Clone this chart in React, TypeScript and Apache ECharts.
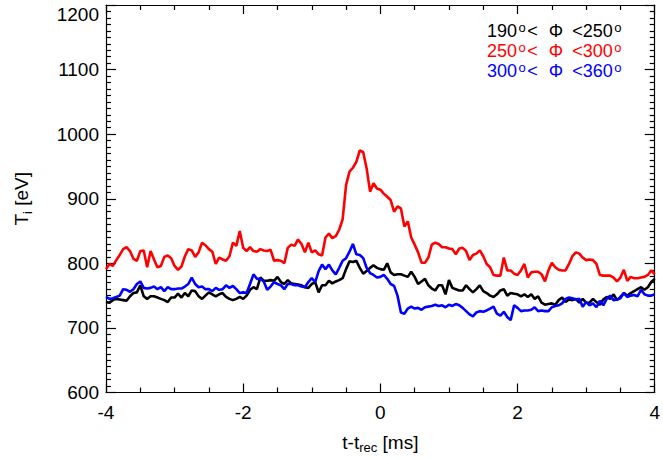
import React, { useEffect, useRef } from "react";
import * as echarts from "echarts";

// Time axis: samples every 0.05 ms from -4 ms to +4 ms
const T_START = -4;
const T_STEP = 0.05;

// Ion temperature T_i [eV], 190° < Φ < 250° (black)
const tiPhi190to250 = [
  740, 739, 743, 745, 744, 743, 742, 749, 754, 755, 766, 749, 745, 749, 749, 747, 745, 743, 740, 747,
  747, 753, 747, 754, 749, 758, 757, 749, 745, 750, 755, 752, 749,
  752, 754, 748, 745, 743, 745, 748, 745, 750, 759, 763, 760, 778, 773, 773, 774, 773, 779, 771, 768,
  774, 769, 768, 767, 766, 763, 762, 768, 771, 755, 766,
  766, 773, 769, 772, 774, 777, 791, 803, 802, 804, 793, 784, 788, 793, 797, 793, 791, 790, 800, 786,
  782, 783, 783, 781, 779, 787, 779, 768, 772, 776, 766, 761, 758,
  766, 766, 752, 774, 762, 760, 758, 758, 766, 760, 755, 760, 766, 757, 754, 750, 748, 752, 758, 760,
  750, 754, 753, 752, 749, 752, 748, 752, 745, 749, 739, 736,
  737, 738, 736, 743, 747, 740, 744, 743, 745, 739, 745, 739, 739, 745, 740, 736, 744, 748, 745, 752,
  743, 748, 754, 750, 754, 757, 760, 763, 759, 763, 771, 776,
];

// Ion temperature T_i [eV], 250° < Φ < 300° (red)
const tiPhi250to300 = [
  791, 799, 796, 805, 813, 822, 825, 819, 807, 804, 819, 820, 794, 819, 806, 794, 796, 810, 812, 808,
  796, 790, 795, 811, 822, 820, 810, 817, 832, 828, 822, 818, 799,
  809, 806, 804, 811, 832, 827, 850, 824, 819, 825, 819, 818, 822, 820, 819, 821, 804, 805, 804, 800,
  824, 829, 827, 837, 830, 817, 832, 817, 820, 814, 812,
  840, 846, 839, 842, 852, 868, 921, 942, 948, 957, 975, 972, 947, 911, 924, 916, 914, 908, 903, 898,
  880, 888, 885, 857, 865, 840, 829, 817, 801, 801, 809, 829, 832,
  830, 825, 825, 823, 822, 814, 823, 824, 819, 805, 813, 815, 820, 811, 799, 794, 782, 781, 781, 809,
  789, 789, 784, 782, 789, 799, 778, 786, 787, 787, 783, 772,
  789, 801, 794, 790, 789, 789, 799, 811, 817, 815, 809, 805, 806, 805, 799, 782, 781, 781, 781, 778,
  772, 778, 790, 773, 779, 777, 777, 778, 779, 782, 789, 783,
];

// Ion temperature T_i [eV], 300° < Φ < 360° (blue)
const tiPhi300to360 = [
  748, 745, 746, 748, 750, 760, 759, 756, 760, 768, 772, 762, 761, 762, 764, 760, 763, 757, 763, 760,
  760, 761, 761, 764, 768, 778, 768, 763, 764, 760, 760, 757, 762,
  759, 760, 766, 762, 765, 760, 754, 755, 754, 768, 783, 776, 776, 772, 759, 764, 771, 768, 766, 760,
  768, 768, 766, 766, 764, 763, 771, 777, 771, 788, 798,
  791, 798, 789, 783, 793, 804, 808, 818, 830, 814, 813, 808, 793, 785, 782, 778, 779, 782, 776, 768,
  765, 750, 724, 722, 730, 733, 730, 731, 728, 732, 733, 734, 736,
  734, 735, 732, 736, 734, 737, 735, 731, 726, 721, 718, 724, 726, 725, 727, 730, 733, 722, 719, 725,
  717, 712, 735, 731, 726, 727, 727, 728, 732, 726, 727, 726,
  726, 732, 734, 735, 738, 745, 747, 746, 744, 745, 733, 740, 735, 738, 732, 742, 735, 745, 750, 743,
  744, 746, 754, 748, 750, 751, 749, 759, 752, 750, 750, 752,
];

// Axis ranges and tick spacing
const X_MIN = -4;
const X_MAX = 4;
const X_INTERVAL = 2;
const Y_MIN = 600;
const Y_MAX = 1200;
const Y_INTERVAL = 100;

// Azimuth bins for the colour key
const phiBins = [
  { lo: "190", hi: "250", color: "#000000" },
  { lo: "250", hi: "300", color: "#ff0000" },
  { lo: "300", hi: "360", color: "#0000ff" },
];

const FONT = "'Liberation Sans', Arial, Helvetica, sans-serif";
const TICK_FONT_SIZE = 19;
const KEY_FONT_SIZE = 18;
const KEY_LINE_HEIGHT = 20;

function toPairs(values: number[]): [number, number][] {
  return values.map((v, i) => [Number((T_START + i * T_STEP).toFixed(2)), v]);
}

function frameAxis(position: string, showLabels: boolean, kind: "x" | "y") {
  const isX = kind === "x";
  return {
    type: "value",
    position,
    min: isX ? X_MIN : Y_MIN,
    max: isX ? X_MAX : Y_MAX,
    interval: isX ? X_INTERVAL : Y_INTERVAL,
    axisLine: { show: true, onZero: false, lineStyle: { color: "#000", width: 1.2 } },
    axisTick: { show: true, inside: true, length: isX ? 9 : 10, lineStyle: { color: "#000", width: 1.2 } },
    minorTick: {
      show: true,
      splitNumber: isX ? 4 : 10,
      length: 5,
      lineStyle: { color: "#000", width: 1.2 },
    },
    splitLine: { show: false },
    minorSplitLine: { show: false },
    axisLabel: {
      show: showLabels,
      color: "#000",
      fontFamily: FONT,
      fontSize: TICK_FONT_SIZE,
      margin: isX ? 10 : 7,
      formatter: (v: number) => String(v),
      ...(isX ? {} : { verticalAlignMaxLabel: "top" }),
    },
  };
}

const titleRich = {
  a: { fontFamily: FONT, fontSize: 19, color: "#000", lineHeight: 20, verticalAlign: "top" },
  s: { fontFamily: FONT, fontSize: 13, color: "#000", lineHeight: 13, padding: [10, 0, 0, 0] },
};

export default function App() {
  const ref = useRef<HTMLDivElement>(null);

  useEffect(() => {
    document.body.style.margin = "0";
    if (!ref.current) return;
    const chart = echarts.init(ref.current, null, { renderer: "svg" });

    const seriesDefs = [
      { name: "190-250", data: tiPhi190to250, color: "#000000" },
      { name: "250-300", data: tiPhi250to300, color: "#ff0000" },
      { name: "300-360", data: tiPhi300to360, color: "#0000ff" },
    ];

    // Colour key: one multi-line rich text, one colour per azimuth bin.
    // The degree mark is a small raised "o".
    const keyRich: Record<string, object> = {};
    const keyLines = phiBins.map((b, i) => {
      keyRich[`n${i}`] = {
        fontFamily: FONT,
        fontSize: KEY_FONT_SIZE,
        lineHeight: KEY_LINE_HEIGHT,
        fill: b.color,
        color: b.color,
      };
      keyRich[`s${i}`] = {
        fontFamily: FONT,
        fontSize: 13,
        lineHeight: 5,
        verticalAlign: "top",
        fill: b.color,
        color: b.color,
        padding: [0, 1.5, 0, 1.5],
      };
      keyRich[`p${i}`] = {
        fontFamily: FONT,
        fontSize: KEY_FONT_SIZE,
        lineHeight: KEY_LINE_HEIGHT,
        fill: b.color,
        color: b.color,
        padding: [0, 9, 0, 11],
      };
      return `{n${i}|${b.lo}}{s${i}|o}{n${i}|<}{p${i}|Φ}{n${i}|<${b.hi}}{s${i}|o}`;
    });

    chart.setOption({
      animation: false,
      backgroundColor: "#ffffff",
      grid: { left: 106, right: 7, top: 5, bottom: 62, containLabel: false },
      xAxis: [
        {
          ...frameAxis("bottom", true, "x"),
          name: "{a|t-t}{s|rec}{a| [ms]}",
          nameLocation: "middle",
          nameGap: 40,
          nameTextStyle: { color: "#000", rich: titleRich },
        },
        frameAxis("top", false, "x"),
      ],
      yAxis: [
        {
          ...frameAxis("left", true, "y"),
          name: "{a|T}{s|i}{a| [eV]}",
          nameLocation: "middle",
          nameGap: 74,
          nameTextStyle: { color: "#000", rich: titleRich },
        },
        frameAxis("right", false, "y"),
      ],
      series: seriesDefs.map((s) => ({
        name: s.name,
        type: "line",
        xAxisIndex: 0,
        yAxisIndex: 0,
        data: toPairs(s.data),
        showSymbol: false,
        symbol: "none",
        lineStyle: { color: s.color, width: 2.6 },
        itemStyle: { color: s.color },
        clip: true,
      })),
      graphic: [
        {
          type: "text",
          right: 40,
          top: 20.5,
          style: {
            text: keyLines.join("\n"),
            align: "right",
            rich: keyRich,
          },
        },
      ],
    });

    return () => chart.dispose();
  }, []);

  return <div ref={ref} style={{ width: 663, height: 459 }} />;
}
